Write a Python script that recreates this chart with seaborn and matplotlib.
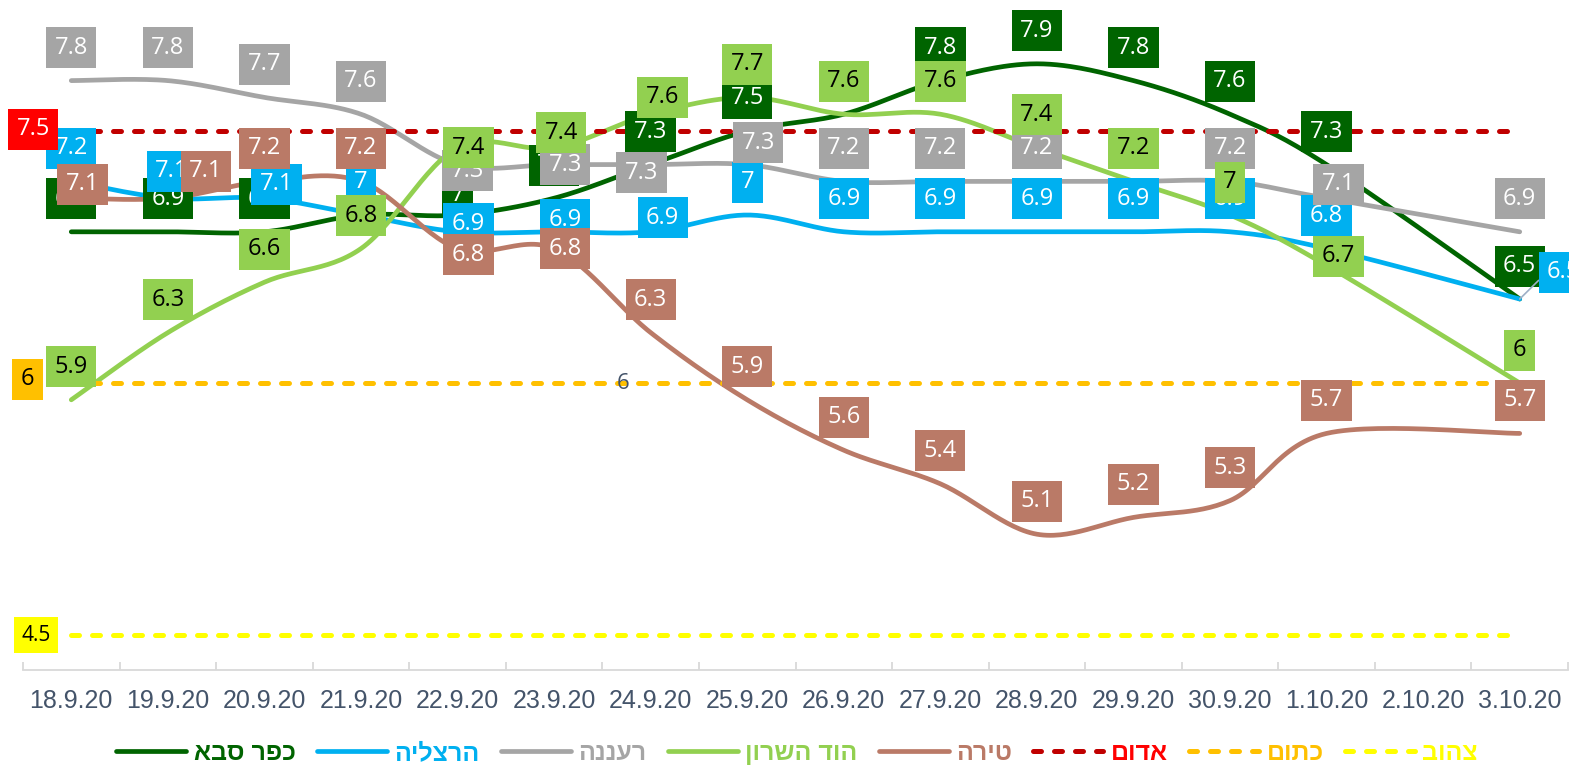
import numpy as np
import matplotlib
matplotlib.use("Agg")
import matplotlib.pyplot as plt
from matplotlib.lines import Line2D
import seaborn as sns

# data
dates = ["18.9.20", "19.9.20", "20.9.20", "21.9.20", "22.9.20", "23.9.20", "24.9.20", "25.9.20",
         "26.9.20", "27.9.20", "28.9.20", "29.9.20", "30.9.20", "1.10.20", "2.10.20", "3.10.20"]
nan = np.nan
kfar_saba = [6.9, 6.9, 6.9, 7.0, 7.0, 7.1, 7.3, 7.5, 7.6, 7.8, 7.9, 7.8, 7.6, 7.3, nan, 6.5]
herzliya = [7.2, 7.1, 7.1, 7.0, 6.9, 6.9, 6.9, 7.0, 6.9, 6.9, 6.9, 6.9, 6.9, 6.8, nan, 6.5]
raanana = [7.8, 7.8, 7.7, 7.6, 7.3, 7.3, 7.3, 7.3, 7.2, 7.2, 7.2, 7.2, 7.2, 7.1, nan, 6.9]
hod_hasharon = [5.9, 6.3, 6.6, 6.8, 7.4, 7.4, 7.6, 7.7, 7.6, 7.6, 7.4, 7.2, 7.0, 6.7, nan, 6.0]
tira = [7.1, 7.1, 7.2, 7.2, 6.8, 6.8, 6.3, 5.9, 5.6, 5.4, 5.1, 5.2, 5.3, 5.7, nan, 5.7]

red_level = 7.5
orange_level = 6.0
yellow_level = 4.5

names = ["כפר סבא", "הרצליה", "רעננה", "הוד השרון", "טירה"]
levels_names = ["אדום", "כתום", "צהוב"]

# label offsets in pixels (dx, dy), None = no label
D = (0, 33)
off_kfar = [D, D, D, D, (0, 20), D, D, D, D, D, D, D, D, D, None, D]
off_herz = [D, (4, 27), (12, 14), D, (11, 8), (11, 12), (12, 14), D, D, D, D, D, D, D, None, (44, 27)]
off_raan = [D, D, D, D, (10, -6), (11, 0), (-9, -8), (11, 22), D, D, D, D, D, (12, 14), None, D]
off_hod = [D, D, D, D, (11, 0), (7, 15), (12, 17), D, D, D, D, D, D, (12, 9), None, D]
off_tira = [(11, 14), (38, 27), D, D, (11, -6), (11, 0), D, D, D, D, D, D, D, D, None, D]

sns.set_theme(style="white")
plt.rcParams["font.family"] = ["Open Sans", "DejaVu Sans"]

fig = plt.figure(figsize=(15.69, 7.7), dpi=100)
ax = fig.add_axes([23 / 1569, 100 / 770, 1545 / 1569, 670 / 770])


def smooth(xs, ys, n=30):
    # excel style smoothed line (bezier through the points)
    pts = np.column_stack([xs, ys])
    out = []
    for i in range(len(pts) - 1):
        p0 = pts[max(i - 1, 0)]
        p1 = pts[i]
        p2 = pts[i + 1]
        p3 = pts[min(i + 2, len(pts) - 1)]
        c1 = p1 + (p2 - p0) / 6
        c2 = p2 - (p3 - p1) / 6
        t = np.linspace(0, 1, n)[:, None]
        seg = (1 - t) ** 3 * p1 + 3 * (1 - t) ** 2 * t * c1 + 3 * (1 - t) * t ** 2 * c2 + t ** 3 * p2
        out.append(seg if i == 0 else seg[1:])
    return np.vstack(out)


series = [
    (kfar_saba, "#006400", "white", off_kfar),
    (herzliya, "#00B0F0", "white", off_herz),
    (raanana, "#A5A5A5", "white", off_raan),
    (hod_hasharon, "#92D050", "black", off_hod),
    (tira, "#BA7A67", "white", off_tira),
]

x_all = np.arange(len(dates))
for vals, col, tcol, offs in series:
    v = np.array(vals)
    ok = ~np.isnan(v)
    curve = smooth(x_all[ok], v[ok])
    sns.lineplot(x=curve[:, 0], y=curve[:, 1], sort=False, estimator=None, color=col,
                 linewidth=3.4, solid_capstyle="round", ax=ax, zorder=2)

# threshold lines
lvl_styles = [(red_level, "#C00000", "#FF0000", "white", (-38, 2)),
              (orange_level, "#FFC000", "#FFC000", "black", (-44, 4)),
              (yellow_level, "#FFFF00", "#FFFF00", "black", (-35, 0))]
for lvl, col, boxcol, tcol, off in lvl_styles:
    ax.plot([x_all[0], x_all[-1]], [lvl, lvl], color=col, linewidth=3.6,
            linestyle=(0, (1.6, 2.6)), dash_capstyle="round", zorder=3)

# data labels (later series on top)
z = 5
for vals, col, tcol, offs in series:
    for i, v in enumerate(vals):
        if np.isnan(v) or offs[i] is None:
            continue
        txt = f"{v:g}"
        kw = {}
        if offs[i] == (44, 27):
            kw["arrowprops"] = dict(arrowstyle="-", color="#9DAFC6", lw=1.2, shrinkA=0, shrinkB=0,
                                    relpos=(0, 0.5))
        ax.annotate(txt, (i, v), xytext=offs[i], textcoords="offset pixels", ha="center", va="center",
                    fontsize=17, color=tcol, zorder=z, annotation_clip=False,
                    bbox=dict(boxstyle="square,pad=0.36", fc=col, ec="none"), **kw)
        z += 0.01
    z += 1

for lvl, col, boxcol, tcol, off in lvl_styles:
    ax.annotate(f"{lvl:g}", (0, lvl), xytext=off, textcoords="offset pixels", ha="center", va="center",
                fontsize=17 if lvl != yellow_level else 15, color=tcol, zorder=20, annotation_clip=False,
                bbox=dict(boxstyle="square,pad=0.36", fc=boxcol, ec="none"))

# stray label on the orange line
ax.annotate(f"{orange_level:g}", (5, orange_level), xytext=(69, 0), textcoords="offset pixels",
            ha="center", va="center", fontsize=16, color="#44546A", zorder=20)

ax.set_xlim(-0.5, len(dates) - 0.5)
ax.set_ylim(4.2917, 8.2798)
ax.set_xticks(x_all)
ax.set_xticklabels(dates)
ax.set_xticks(np.arange(len(dates) + 1) - 0.5, minor=True)
ax.tick_params(axis="x", which="major", length=0, pad=14, labelsize=18, labelcolor="#44546A")
ax.tick_params(axis="x", which="minor", direction="in", length=6, width=1.3, color="#D9D9D9", bottom=True)
for lab in ax.get_xticklabels():
    lab.set_family(["Liberation Sans Narrow", "Liberation Sans"])
ax.set_yticks([])
for s in ["left", "right", "top"]:
    ax.spines[s].set_visible(False)
ax.spines["bottom"].set_color("#D9D9D9")
ax.spines["bottom"].set_linewidth(1.3)
ax.grid(False)

# legend
handles = []
labels = []
tcolors = []
for (vals, col, tcol, offs), nm in zip(series, names):
    handles.append(Line2D([], [], color=col, linewidth=3.4, solid_capstyle="round"))
    labels.append(nm[::-1])
    tcolors.append(col)
for (lvl, col, boxcol, tcol, off), nm in zip(lvl_styles, levels_names):
    handles.append(Line2D([], [], color=col, linewidth=3.6, linestyle=(0, (1.6, 2.6)),
                          dash_capstyle="round"))
    labels.append(nm[::-1])
    tcolors.append(boxcol)
leg = fig.legend(handles, labels, loc="center", bbox_to_anchor=(797 / 1569, 1 - 753 / 770), ncol=8,
                 frameon=False, handlelength=2.8, handletextpad=0.3, columnspacing=0.85,
                 prop={"family": ["Liberation Sans Narrow", "Liberation Sans", "DejaVu Sans"],
                       "weight": "bold", "size": 18})
for t, c in zip(leg.get_texts(), tcolors):
    t.set_color(c)

fig.savefig("out.png", dpi=100)
